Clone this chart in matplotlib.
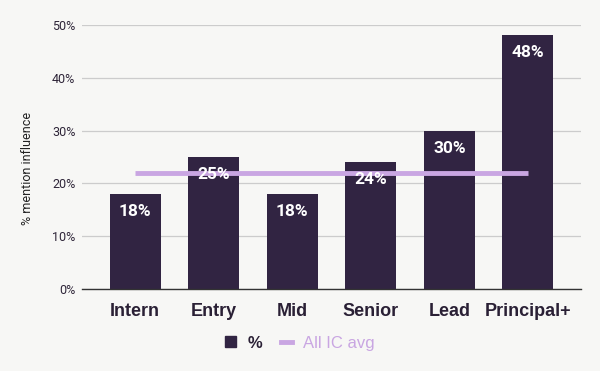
import numpy as np
import matplotlib.pyplot as plt
from matplotlib.lines import Line2D
from matplotlib.patches import Patch

levels = ["Intern", "Entry", "Mid", "Senior", "Lead", "Principal+"]
pct = [18, 25, 18, 24, 30, 48]
ic_avg = 22

bar_color = "#312442"
avg_color = "#c9a6e2"
bg = "#f7f7f5"

fig = plt.figure(figsize=(6, 3.71), dpi=100, facecolor=bg)
ax = fig.add_axes([0.137, 0.221, 0.831, 0.712], facecolor=bg)

x = np.arange(len(levels))
ax.bar(x, pct, width=0.65, color=bar_color, zorder=2)
ax.plot([x[0], x[-1]], [ic_avg, ic_avg], color=avg_color, lw=3.5,
        solid_capstyle="butt", zorder=3)

for xi, v in zip(x, pct):
    ax.text(xi, v - 1.9, f"{v}%", ha="center", va="top", color="white",
            fontsize=12.5, fontweight="bold", family="Roboto", zorder=4)

ax.set_xlim(-0.674, 5.674)
ax.set_ylim(0, 50)
ax.set_yticks(range(0, 51, 10))
ax.set_yticklabels([f"{t}%" for t in range(0, 51, 10)], fontsize=9,
                   family="Roboto", color="#2e2538")
ax.set_xticks(x)
ax.set_xticklabels(levels, fontsize=13, fontweight="bold",
                   family="Liberation Sans", color="#2a2035")
ax.tick_params(axis="both", length=0)
ax.tick_params(axis="y", pad=5)
ax.tick_params(axis="x", pad=10)
ax.grid(axis="y", color="#cccccc", lw=0.9, zorder=0)
for s in ["top", "right", "left"]:
    ax.spines[s].set_visible(False)
ax.spines["bottom"].set_color("#333333")
ax.spines["bottom"].set_linewidth(1)
ax.set_ylabel("% mention influence", fontsize=9, family="Roboto",
              color="#222222")
ax.yaxis.set_label_coords(-0.096, 0.458)

handles = [Patch(color=bar_color), Line2D([], [], color=avg_color, lw=3.5)]
leg = fig.legend(handles, ["%", "All IC avg"], loc="center",
                 bbox_to_anchor=(0.5, 0.075), ncol=2, frameon=False,
                 handlelength=0.65, handleheight=0.65, columnspacing=1.1,
                 handletextpad=0.7, prop={"family": "Liberation Sans", "size": 12})
leg.get_texts()[0].set_fontweight("bold")
leg.get_texts()[0].set_color("#2a2035")
leg.get_texts()[1].set_color(avg_color)

fig.savefig("out.png", dpi=100, facecolor=bg)
